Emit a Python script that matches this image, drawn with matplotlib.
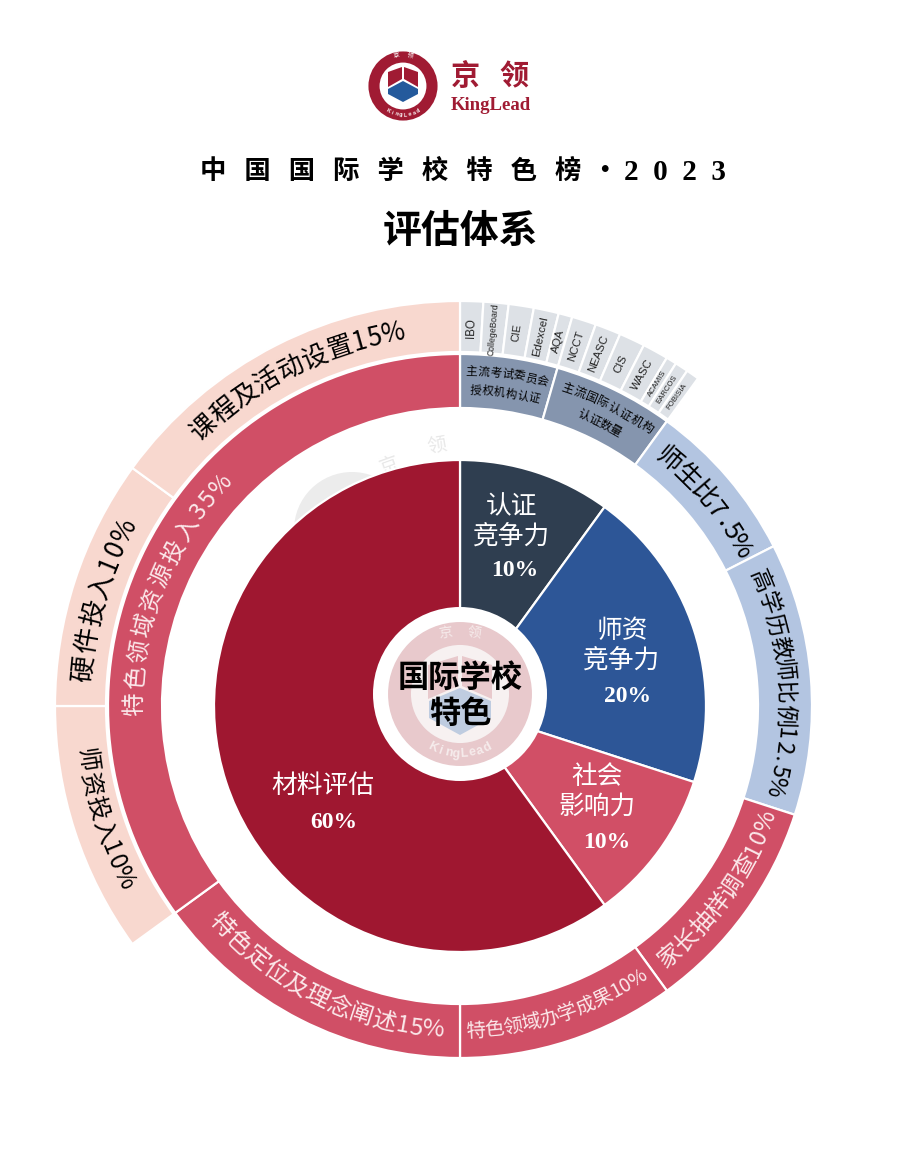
import numpy as np
import matplotlib
matplotlib.use("Agg")
import matplotlib.pyplot as plt
from matplotlib.patches import Circle, Polygon

CJK = ['Noto Sans CJK SC', 'DejaVu Sans']
SERIF = ['Liberation Serif', 'Noto Sans CJK SC']
SANS = ['Liberation Sans', 'DejaVu Sans']
plt.rcParams['font.family'] = CJK

# share of the total, in percent, clockwise from the top
inner_names = ['认证\n竞争力', '师资\n竞争力', '社会\n影响力', '材料评估']
inner_values = [10, 20, 10, 60]
inner_colors = ['#2F3E50', '#2D5697', '#D14F66', '#9F1730']

ring_names = ['主流考试委员会授权机构认证', '主流国际认证机构认证数量', '师生比', '高学历教师比例',
              '家长抽样调查', '特色领域办学成果', '特色定位及理念阐述', '特色领域资源投入']
ring_values = [4.47, 5.53, 7.5, 12.5, 10, 10, 15, 35]
ring_colors = ['#8595AE', '#8595AE', '#B3C5E1', '#B3C5E1',
               '#D04F66', '#D04F66', '#D04F66', '#D04F66']

org_names = ['IBO', 'CollegeBoard', 'CIE', 'Edexcel', 'AQA', 'NCCT', 'NEASC', 'CIS',
             'WASC', 'ACAMIS', 'EARCOS', 'FOBISIA']
org_values = [0.92, 1.0, 1.0, 1.0, 0.55, 0.97, 1.03, 1.03, 1.03, 0.42, 0.53, 0.52]
org_sizes = [8.3, 6.2, 7.8, 8.2, 8.2, 8.2, 8.2, 8.2, 8.2, 5.6, 5.6, 5.6]

invest_names = ['师资投入', '硬件投入', '课程及活动设置']
invest_values = [10, 10, 15]
blank_value = 55

W, H = 900, 1165
CX, CY = 460, 706  # centre of all the rings, px
BX, BY = 460, 694  # centre of the badge, it sits a bit higher


def py(y):
    return H - y


fig = plt.figure(figsize=(W / 100, H / 100), dpi=100, facecolor='white')
ax = fig.add_axes([0, 0, 1, 1])

# faint watermark behind the pie
ax.add_patch(Circle((352, py(530)), 58, fc='#ECECEC', ec='none', zorder=0))
ax.text(390, py(466), '京', fontsize=14, color='#E8E8E8', rotation=20, ha='center', va='center', zorder=0)
ax.text(437, py(445), '领', fontsize=14, color='#E8E8E8', rotation=10, ha='center', va='center', zorder=0)

edge = dict(edgecolor='white', linewidth=1.6)

# outer ring
org_colors = ['#DDE1E6'] * len(org_values)
invest_colors = ['#F8D8CF'] * len(invest_values)
outer_vals = org_values + [blank_value] + invest_values
outer_cols = org_colors + ['white'] + invest_colors
wedges, _ = ax.pie(outer_vals, colors=outer_cols, startangle=90, counterclock=False,
                   center=(CX, py(CY)), radius=405, frame=True,
                   wedgeprops=dict(width=51, **edge))
wedges[len(org_values)].set_visible(False)

# middle ring
ax.pie(ring_values, colors=ring_colors, startangle=90, counterclock=False,
       center=(CX, py(CY)), radius=352, frame=True,
       wedgeprops=dict(width=54, **edge))

# inner pie
ax.pie(inner_values, colors=inner_colors, startangle=90, counterclock=False,
       center=(CX, py(CY)), radius=246, frame=True, wedgeprops=edge)

ax.set_aspect('auto')
ax.set_xlim(0, W)
ax.set_ylim(0, H)
ax.axis('off')


def char_w(c):
    if ord(c) > 0x2E80:
        return 1.0
    if c == '%':
        return 0.85
    if c == '.':
        return 0.45
    return 0.58


def arc_text(s, r, a0, a1, size, color='black'):
    # a0 -> a1 in degrees clockwise from top; falling angles mean tops point to the centre
    w = np.array([char_w(c) for c in s])
    mids = (np.cumsum(w) - w / 2) / w.sum()
    for c, m in zip(s, mids):
        a = a0 + (a1 - a0) * m
        t = np.radians(a)
        rot = -a if a1 > a0 else 180 - a
        ax.text(CX + r * np.sin(t), py(CY) + r * np.cos(t), c, fontsize=size, color=color,
                rotation=rot, rotation_mode='anchor', ha='center', va='center')


PALE = '#FBE8EA'
arc_text('课程及活动设置15%', 378, 315.4, 351.5, 18.6)
arc_text('硬件投入10%', 378, 273.5, 299.5, 19)
arc_text('师资投入10%', 378, 263.5, 241.5, 17.3)
arc_text('特色领域资源投入35%', 325, 268, 314.6, 17, PALE)
arc_text('特色定位及理念阐述15%', 325, 229.5, 183, 17.2, PALE)
arc_text('特色领域办学成果10%', 325, 179, 145.5, 14, PALE)
arc_text('家长抽样调查10%', 327, 142, 109, 17, PALE)
arc_text('师生比7.5%', 322, 38, 62.3, 18.5)
arc_text('高学历教师比例12.5%', 325, 65.5, 106, 16.5)
arc_text('主流考试委员会', 335, 1, 15.3, 8.4)
arc_text('授权机构认证', 316, 1.8, 14.6, 8.2)
arc_text('主流国际认证机构', 335, 17.6, 35, 8.6)
arc_text('认证数量', 316, 22, 30.5, 8.6)

# organisation names run along the radius
org_edges = np.cumsum([0] + org_values) * 3.6
for name, size, a0, a1 in zip(org_names, org_sizes, org_edges[:-1], org_edges[1:]):
    a = (a0 + a1) / 2
    t = np.radians(a)
    ax.text(CX + 378 * np.sin(t), py(CY) + 378 * np.cos(t), name, fontsize=size, family=SANS,
            color='#222222', rotation=90 - a, rotation_mode='anchor', ha='center', va='center')

# inner labels
label_pos = [(512, 522), (622, 646), (597, 792), (323, 786)]
pct_pos = [(515, 571), (628, 696), (607, 842), (334, 823)]
for name, val, (x, y), (x2, y2) in zip(inner_names, inner_values, label_pos, pct_pos):
    ax.text(x, py(y), name, fontsize=18.5, color='white', ha='center', va='center', linespacing=1.2)
    ax.text(x2, py(y2), f'{val}%', fontsize=17, color='white', family=SERIF, weight='bold',
            ha='center', va='center')

# centre badge
ax.add_patch(Circle((BX, py(BY)), 87, fc='white', ec='none', zorder=4))
ax.add_patch(Circle((BX, py(BY)), 60.5, fc='#F7F1F1', ec='#E8C9CC', lw=16.5, zorder=4))
ax.add_patch(Polygon([(428, py(665)), (458, py(656)), (458, py(686)), (428, py(699))], fc='#E8C9CC', zorder=4))
ax.add_patch(Polygon([(492, py(665)), (462, py(656)), (462, py(686)), (492, py(699))], fc='#E8C9CC', zorder=4))
ax.add_patch(Polygon([(429, py(701)), (460, py(688)), (491, py(701)), (491, py(718)),
                      (460, py(735)), (429, py(718))], fc='#BFCCE0', zorder=4))
ax.text(445, py(633), '京', fontsize=10, color='#F6ECEC', rotation=8, ha='center', va='center', zorder=5)
ax.text(474, py(633), '领', fontsize=10, color='#F6ECEC', rotation=-8, ha='center', va='center', zorder=5)
for c, a in zip('KingLead', np.linspace(-27, 27, 8)):
    t = np.radians(a)
    ax.text(BX + 60 * np.sin(t), py(BY) - 60 * np.cos(t), c, fontsize=9, weight='bold', family=SANS,
            color='#F6ECEC', rotation=a, ha='center', va='center', zorder=5)
ax.text(460, py(678), '国际学校', fontsize=22.5, weight='bold', color='black', ha='center', va='center', zorder=5)
ax.text(460, py(714), '特色', fontsize=22.5, weight='bold', color='black', ha='center', va='center', zorder=5)

# titles
ax.text(391, py(171), '中   国   国   际   学   校   特   色   榜', fontsize=19, weight='bold',
        ha='center', va='center')
ax.text(604, py(172), '·', fontsize=19, weight='bold', ha='center', va='center')
ax.text(675, py(172), '2  0  2  3', fontsize=21, weight='bold', family=SERIF, ha='center', va='center')
ax.text(460, py(231), '评估体系', fontsize=28, weight='bold', ha='center', va='center')

# logo
RED = '#A01B33'
ax.add_patch(Circle((403, py(86)), 29, fc='none', ec=RED, lw=8))
ax.add_patch(Polygon([(388, py(72)), (402, py(67)), (402, py(79)), (388, py(87))], fc=RED))
ax.add_patch(Polygon([(418, py(72)), (404, py(67)), (404, py(79)), (418, py(87))], fc=RED))
ax.add_patch(Polygon([(388, py(89)), (403, py(81)), (418, py(89)), (418, py(94)),
                      (403, py(102)), (388, py(94))], fc='#245A9C'))
ax.text(396, py(55), '京', fontsize=4.5, color='white', rotation=10, ha='center', va='center')
ax.text(410, py(55), '领', fontsize=4.5, color='white', rotation=-10, ha='center', va='center')
for c, a in zip('KingLead', np.linspace(-32, 32, 8)):
    t = np.radians(a)
    ax.text(403 + 29 * np.sin(t), py(86) - 29 * np.cos(t), c, fontsize=4, weight='bold', family=SANS,
            color='white', rotation=a, ha='center', va='center')
ax.text(490, py(76), '京   领', fontsize=21, weight='bold', color=RED, ha='center', va='center')
ax.text(491, py(106), 'KingLead', fontsize=13.5, weight='bold', family=SERIF, color=RED,
        ha='center', va='center')

fig.savefig('out.png', dpi=100, facecolor='white')
